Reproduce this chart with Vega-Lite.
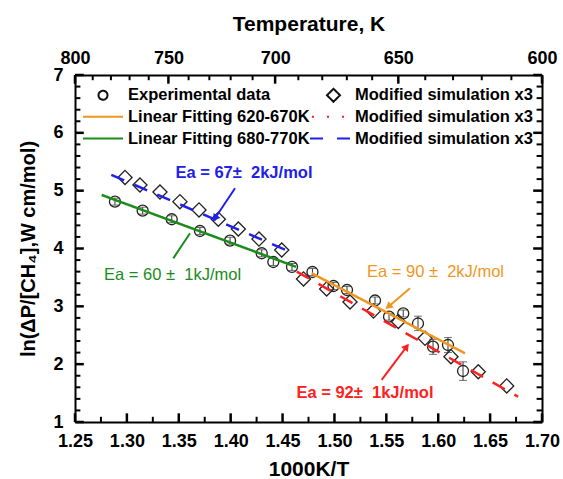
{
  "$schema": "https://vega.github.io/schema/vega-lite/v6.json",
  "width": 467,
  "height": 347,
  "autosize": {"type": "none"},
  "padding": {"left": 75, "top": 75, "right": 21, "bottom": 57},
  "background": "white",
  "config": {
    "view": {"stroke": null},
    "font": "Liberation Sans",
    "axis": {
      "grid": false, "domainColor": "black", "domainWidth": 2, "ticks": false, "zindex": 0,
      "labelFont": "Liberation Sans", "labelFontSize": 18, "labelFontWeight": "bold", "labelColor": "black",
      "titleFont": "Liberation Sans", "titleFontSize": 21, "titleFontWeight": "bold", "titleColor": "black",
      "labelFlush": false, "labelOverlap": false, "labelBound": false
    }
  },
  "datasets": {
    "exp": [
      {"x": 1.2885, "y": 4.810, "lo": 4.750, "hi": 4.870},
      {"x": 1.3152, "y": 4.654, "lo": 4.594, "hi": 4.714},
      {"x": 1.3432, "y": 4.506, "lo": 4.446, "hi": 4.566},
      {"x": 1.3704, "y": 4.303, "lo": 4.243, "hi": 4.363},
      {"x": 1.3994, "y": 4.135, "lo": 4.075, "hi": 4.195},
      {"x": 1.4299, "y": 3.918, "lo": 3.858, "hi": 3.978},
      {"x": 1.4411, "y": 3.767, "lo": 3.707, "hi": 3.827},
      {"x": 1.4591, "y": 3.681, "lo": 3.621, "hi": 3.741},
      {"x": 1.4788, "y": 3.594, "lo": 3.534, "hi": 3.654},
      {"x": 1.4991, "y": 3.352, "lo": 3.292, "hi": 3.412},
      {"x": 1.5121, "y": 3.282, "lo": 3.222, "hi": 3.342},
      {"x": 1.5391, "y": 3.101, "lo": 3.041, "hi": 3.161},
      {"x": 1.5526, "y": 2.821, "lo": 2.761, "hi": 2.881},
      {"x": 1.5663, "y": 2.877, "lo": 2.817, "hi": 2.937},
      {"x": 1.5805, "y": 2.703, "lo": 2.580, "hi": 2.830},
      {"x": 1.5950, "y": 2.302, "lo": 2.170, "hi": 2.430},
      {"x": 1.6094, "y": 2.331, "lo": 2.200, "hi": 2.460},
      {"x": 1.6239, "y": 1.882, "lo": 1.720, "hi": 2.040}
    ],
    "sim": [
      {"x": 1.2982, "y": 5.228}, {"x": 1.3126, "y": 5.098}, {"x": 1.3319, "y": 4.977},
      {"x": 1.3511, "y": 4.810}, {"x": 1.3695, "y": 4.666}, {"x": 1.3881, "y": 4.506},
      {"x": 1.4074, "y": 4.337}, {"x": 1.4273, "y": 4.164}, {"x": 1.4492, "y": 3.974},
      {"x": 1.4702, "y": 3.473}, {"x": 1.4925, "y": 3.300}, {"x": 1.5150, "y": 3.075},
      {"x": 1.5376, "y": 2.919}, {"x": 1.5615, "y": 2.738}, {"x": 1.5873, "y": 2.447},
      {"x": 1.6123, "y": 2.129}, {"x": 1.6386, "y": 1.869}, {"x": 1.6660, "y": 1.623}
    ],
    "fits": [
      {"series": "fit620", "x": 1.478, "y": 3.572}, {"series": "fit620", "x": 1.6258, "y": 2.188},
      {"series": "fit680", "x": 1.2757, "y": 4.926}, {"series": "fit680", "x": 1.463, "y": 3.683},
      {"series": "sim620", "x": 1.4637, "y": 3.600}, {"series": "sim620", "x": 1.677, "y": 1.437},
      {"series": "sim680", "x": 1.285, "y": 5.273}, {"series": "sim680", "x": 1.4605, "y": 3.918}
    ],
    "notes": [
      {"id": "blue", "x": 1.4128, "y": 5.297, "text": "Ea = 67±\u00a0 2kJ/mol"},
      {"id": "green", "x": 1.344, "y": 3.542, "text": "Ea = 60 ±\u00a0 1kJ/mol"},
      {"id": "orange", "x": 1.5974, "y": 3.600, "text": "Ea = 90 ±\u00a0 2kJ/mol"},
      {"id": "red", "x": 1.5294, "y": 1.496, "text": "Ea = 92±\u00a0 1kJ/mol"}
    ],
    "arrows": [
      {"id": "blue", "x": 1.4042, "y": 5.041, "x2": 1.3849, "y2": 4.522},
      {"id": "green", "x": 1.3447, "y": 3.830, "x2": 1.3608, "y2": 4.263},
      {"id": "orange", "x": 1.5728, "y": 3.312, "x2": 1.5519, "y2": 2.994},
      {"id": "red", "x": 1.5455, "y": 1.727, "x2": 1.5696, "y2": 2.302}
    ],
    "legend": [
      {"key": "exp"}, {"key": "fit620"}, {"key": "fit680"}, {"key": "sim"}, {"key": "simred"}, {"key": "simblue"}
    ],
    "xMajor": [{"v": 1.25}, {"v": 1.3}, {"v": 1.35}, {"v": 1.4}, {"v": 1.45}, {"v": 1.5}, {"v": 1.55}, {"v": 1.6}, {"v": 1.65}, {"v": 1.7}],
    "xMinor": [{"v": 1.275}, {"v": 1.325}, {"v": 1.375}, {"v": 1.425}, {"v": 1.475}, {"v": 1.525}, {"v": 1.575}, {"v": 1.625}, {"v": 1.675}],
    "tMajor": [{"v": 1.25}, {"v": 1.34}, {"v": 1.442857}, {"v": 1.561538}, {"v": 1.7}],
    "tMinor": [{"v": 1.267089}, {"v": 1.284615}, {"v": 1.302597}, {"v": 1.321053}, {"v": 1.359459}, {"v": 1.379452}, {"v": 1.4}, {"v": 1.421127}, {"v": 1.465217}, {"v": 1.488235}, {"v": 1.51194}, {"v": 1.536364}, {"v": 1.5875}, {"v": 1.614286}, {"v": 1.641935}, {"v": 1.670492}],
    "yMajor": [{"v": 1}, {"v": 2}, {"v": 3}, {"v": 4}, {"v": 5}, {"v": 6}, {"v": 7}],
    "yMinor": [{"v": 1.2}, {"v": 1.4}, {"v": 1.6}, {"v": 1.8}, {"v": 2.2}, {"v": 2.4}, {"v": 2.6}, {"v": 2.8}, {"v": 3.2}, {"v": 3.4}, {"v": 3.6}, {"v": 3.8}, {"v": 4.2}, {"v": 4.4}, {"v": 4.6}, {"v": 4.8}, {"v": 5.2}, {"v": 5.4}, {"v": 5.6}, {"v": 5.8}, {"v": 6.2}, {"v": 6.4}, {"v": 6.6}, {"v": 6.8}]
  },
  "resolve": {
    "axis": {"x": "independent", "y": "independent"},
    "scale": {"color": "independent", "strokeDash": "independent", "shape": "independent"}
  },
  "layer": [
    {
      "data": {"name": "exp"},
      "mark": {"type": "errorbar", "ticks": {"size": 8, "color": "#333333"}, "color": "#333333"},
      "encoding": {
        "x": {"field": "x", "type": "quantitative", "scale": {"domain": [1.25, 1.7], "nice": false, "zero": false}, "axis": null},
        "y": {"field": "lo", "type": "quantitative", "scale": {"domain": [1, 7], "nice": false, "zero": false}, "axis": null},
        "y2": {"field": "hi"}
      }
    },
    {
      "data": {"name": "exp"},
      "mark": {"type": "point", "shape": "circle", "filled": false, "color": "#222222", "size": 121, "strokeWidth": 1.3, "opacity": 1},
      "encoding": {
        "x": {"field": "x", "type": "quantitative", "scale": {"domain": [1.25, 1.7], "nice": false, "zero": false},
          "axis": {"orient": "bottom", "values": [1.25, 1.3, 1.35, 1.4, 1.45, 1.5, 1.55, 1.6, 1.65, 1.7], "format": ".2f", "labelPadding": 10, "title": "1000K/T", "titlePadding": 8}},
        "y": {"field": "y", "type": "quantitative", "scale": {"domain": [1, 7], "nice": false, "zero": false},
          "axis": {"orient": "left", "values": [1, 2, 3, 4, 5, 6, 7], "format": "d", "labelPadding": 12, "title": "ln(ΔP/[CH₄],W cm/mol)", "titleFontSize": 20, "titlePadding": 14}}
      }
    },
    {
      "data": {"name": "sim"},
      "mark": {"type": "point", "shape": "diamond", "filled": false, "color": "#222222", "size": 200, "strokeWidth": 1.3, "opacity": 1},
      "encoding": {
        "x": {"field": "x", "type": "quantitative", "scale": {"domain": [1.25, 1.7], "nice": false, "zero": false}, "axis": null},
        "y": {"field": "y", "type": "quantitative", "scale": {"domain": [1, 7], "nice": false, "zero": false}, "axis": null}
      }
    },
    {
      "data": {"name": "fits"},
      "mark": {"type": "line", "strokeWidth": 2.5},
      "encoding": {
        "x": {"field": "x", "type": "quantitative", "scale": {"domain": [1.25, 1.7], "nice": false, "zero": false}, "axis": null},
        "y": {"field": "y", "type": "quantitative", "scale": {"domain": [1, 7], "nice": false, "zero": false}, "axis": null},
        "detail": {"field": "series"},
        "color": {"field": "series", "type": "nominal", "legend": null,
          "scale": {"domain": ["fit620", "fit680", "sim620", "sim680"], "range": ["#f0961e", "#1a8c1a", "#ff2020", "#2020e8"]}},
        "strokeDash": {"field": "series", "type": "nominal", "legend": null,
          "scale": {"domain": ["fit620", "fit680", "sim620", "sim680"], "range": [[1, 0], [1, 0], [14, 11], [14, 11]]}}
      }
    },
    {
      "data": {"name": "arrows"},
      "mark": {"type": "rule", "strokeWidth": 2},
      "encoding": {
        "x": {"field": "x", "type": "quantitative", "scale": {"domain": [1.25, 1.7], "nice": false, "zero": false},
          "axis": {"orient": "top", "values": [1.25, 1.34, 1.442857, 1.561538, 1.7], "labelExpr": "datum.value < 1.3 ? '800' : datum.value < 1.4 ? '750' : datum.value < 1.5 ? '700' : datum.value < 1.65 ? '650' : '600'", "labelPadding": 8, "title": "Temperature, K", "titlePadding": 15}},
        "y": {"field": "y", "type": "quantitative", "scale": {"domain": [1, 7], "nice": false, "zero": false},
          "axis": {"orient": "right", "values": [1, 7], "labels": false, "title": null}},
        "x2": {"field": "x2"},
        "y2": {"field": "y2"},
        "color": {"field": "id", "type": "nominal", "legend": null,
          "scale": {"domain": ["blue", "green", "orange", "red"], "range": ["#2020e8", "#1a8c1a", "#f0961e", "#ff2020"]}}
      }
    },
    {
      "data": {"name": "xMajor"},
      "mark": {"type": "rule", "color": "#000000", "strokeWidth": 2.5, "opacity": 1},
      "encoding": {
        "x": {"field": "v", "type": "quantitative", "scale": {"domain": [1.25, 1.7], "nice": false, "zero": false}, "axis": null},
        "y": {"datum": 1, "type": "quantitative", "scale": {"domain": [1, 7], "nice": false, "zero": false}, "axis": null},
        "y2": {"datum": 1.15}
      }
    },
    {
      "data": {"name": "xMinor"},
      "mark": {"type": "rule", "color": "#000000", "strokeWidth": 2, "opacity": 1},
      "encoding": {
        "x": {"field": "v", "type": "quantitative", "scale": {"domain": [1.25, 1.7], "nice": false, "zero": false}, "axis": null},
        "y": {"datum": 1, "type": "quantitative", "scale": {"domain": [1, 7], "nice": false, "zero": false}, "axis": null},
        "y2": {"datum": 1.09}
      }
    },
    {
      "data": {"name": "tMajor"},
      "mark": {"type": "rule", "color": "#000000", "strokeWidth": 2.5, "opacity": 1},
      "encoding": {
        "x": {"field": "v", "type": "quantitative", "scale": {"domain": [1.25, 1.7], "nice": false, "zero": false}, "axis": null},
        "y": {"datum": 7, "type": "quantitative", "scale": {"domain": [1, 7], "nice": false, "zero": false}, "axis": null},
        "y2": {"datum": 6.85}
      }
    },
    {
      "data": {"name": "tMinor"},
      "mark": {"type": "rule", "color": "#000000", "strokeWidth": 2, "opacity": 1},
      "encoding": {
        "x": {"field": "v", "type": "quantitative", "scale": {"domain": [1.25, 1.7], "nice": false, "zero": false}, "axis": null},
        "y": {"datum": 7, "type": "quantitative", "scale": {"domain": [1, 7], "nice": false, "zero": false}, "axis": null},
        "y2": {"datum": 6.91}
      }
    },
    {
      "data": {"name": "yMajor"},
      "mark": {"type": "rule", "color": "#000000", "strokeWidth": 2.5, "opacity": 1},
      "encoding": {
        "y": {"field": "v", "type": "quantitative", "scale": {"domain": [1, 7], "nice": false, "zero": false}, "axis": null},
        "x": {"datum": 1.25, "type": "quantitative", "scale": {"domain": [1.25, 1.7], "nice": false, "zero": false}, "axis": null},
        "x2": {"datum": 1.2585}
      }
    },
    {
      "data": {"name": "yMinor"},
      "mark": {"type": "rule", "color": "#000000", "strokeWidth": 2, "opacity": 1},
      "encoding": {
        "y": {"field": "v", "type": "quantitative", "scale": {"domain": [1, 7], "nice": false, "zero": false}, "axis": null},
        "x": {"datum": 1.25, "type": "quantitative", "scale": {"domain": [1.25, 1.7], "nice": false, "zero": false}, "axis": null},
        "x2": {"datum": 1.2552}
      }
    },
    {
      "data": {"name": "yMajor"},
      "mark": {"type": "rule", "color": "#000000", "strokeWidth": 2.5, "opacity": 1},
      "encoding": {
        "y": {"field": "v", "type": "quantitative", "scale": {"domain": [1, 7], "nice": false, "zero": false}, "axis": null},
        "x": {"datum": 1.7, "type": "quantitative", "scale": {"domain": [1.25, 1.7], "nice": false, "zero": false}, "axis": null},
        "x2": {"datum": 1.6915}
      }
    },
    {
      "data": {"name": "yMinor"},
      "mark": {"type": "rule", "color": "#000000", "strokeWidth": 2, "opacity": 1},
      "encoding": {
        "y": {"field": "v", "type": "quantitative", "scale": {"domain": [1, 7], "nice": false, "zero": false}, "axis": null},
        "x": {"datum": 1.7, "type": "quantitative", "scale": {"domain": [1.25, 1.7], "nice": false, "zero": false}, "axis": null},
        "x2": {"datum": 1.6948}
      }
    },
    {
      "data": {"name": "arrows"},
      "transform": [{"filter": "datum.id == 'blue'"}],
      "mark": {"type": "point", "shape": "triangle-up", "angle": 214, "filled": true, "size": 70, "color": "#2020e8", "opacity": 1},
      "encoding": {
        "x": {"field": "x2", "type": "quantitative", "scale": {"domain": [1.25, 1.7], "nice": false, "zero": false}, "axis": null},
        "y": {"field": "y2", "type": "quantitative", "scale": {"domain": [1, 7], "nice": false, "zero": false}, "axis": null}
      }
    },
    {
      "data": {"name": "arrows"},
      "transform": [{"filter": "datum.id == 'orange'"}],
      "mark": {"type": "point", "shape": "triangle-up", "angle": 230, "filled": true, "size": 70, "color": "#f0961e", "opacity": 1},
      "encoding": {
        "x": {"field": "x2", "type": "quantitative", "scale": {"domain": [1.25, 1.7], "nice": false, "zero": false}, "axis": null},
        "y": {"field": "y2", "type": "quantitative", "scale": {"domain": [1, 7], "nice": false, "zero": false}, "axis": null}
      }
    },
    {
      "data": {"name": "arrows"},
      "transform": [{"filter": "datum.id == 'red'"}],
      "mark": {"type": "point", "shape": "triangle-up", "angle": 37, "filled": true, "size": 70, "color": "#ff2020", "opacity": 1},
      "encoding": {
        "x": {"field": "x2", "type": "quantitative", "scale": {"domain": [1.25, 1.7], "nice": false, "zero": false}, "axis": null},
        "y": {"field": "y2", "type": "quantitative", "scale": {"domain": [1, 7], "nice": false, "zero": false}, "axis": null}
      }
    },
    {
      "data": {"name": "notes"},
      "transform": [{"filter": "datum.id == 'blue' || datum.id == 'red'"}],
      "mark": {"type": "text", "font": "Liberation Sans", "fontSize": 16.5, "fontWeight": "bold", "align": "center", "baseline": "middle"},
      "encoding": {
        "x": {"field": "x", "type": "quantitative", "scale": {"domain": [1.25, 1.7], "nice": false, "zero": false}, "axis": null},
        "y": {"field": "y", "type": "quantitative", "scale": {"domain": [1, 7], "nice": false, "zero": false}, "axis": null},
        "text": {"field": "text"},
        "color": {"field": "id", "type": "nominal", "legend": null,
          "scale": {"domain": ["blue", "red"], "range": ["#2020e8", "#ff2020"]}}
      }
    },
    {
      "data": {"name": "notes"},
      "transform": [{"filter": "datum.id == 'green' || datum.id == 'orange'"}],
      "mark": {"type": "text", "font": "Liberation Sans", "fontSize": 16.5, "fontWeight": "normal", "align": "center", "baseline": "middle"},
      "encoding": {
        "x": {"field": "x", "type": "quantitative", "scale": {"domain": [1.25, 1.7], "nice": false, "zero": false}, "axis": null},
        "y": {"field": "y", "type": "quantitative", "scale": {"domain": [1, 7], "nice": false, "zero": false}, "axis": null},
        "text": {"field": "text"},
        "color": {"field": "id", "type": "nominal", "legend": null,
          "scale": {"domain": ["green", "orange"], "range": ["#1a8c1a", "#f0961e"]}}
      }
    },
    {
      "data": {"name": "legend"},
      "mark": {"type": "point", "filled": false, "opacity": 0},
      "encoding": {
        "shape": {"field": "key", "type": "nominal",
          "scale": {"domain": ["exp", "fit620", "fit680", "sim", "simred", "simblue"],
            "range": ["M0.093,0A0.209,0.209,0,1,1,-0.325,0A0.209,0.209,0,1,1,0.093,0Z", "M-1.326,0L0.814,0", "M-1.326,0L0.814,0", "M-0.256,0L0.046,-0.302L0.348,0L0.046,0.302Z", "M-0.953,0L0.581,0", "M-1.047,0L0.814,0"]},
          "legend": {"orient": "none", "legendX": 8, "legendY": 12, "columns": 2, "columnPadding": 0, "rowPadding": 4.8, "clipHeight": 16, "padding": 0, "title": null,
            "symbolSize": 1849, "symbolStrokeWidth": 2, "symbolOpacity": 1, "labelOffset": 0, "labelLimit": 400,
            "labelFont": "Liberation Sans", "labelFontSize": 16.5, "labelFontWeight": "bold", "labelColor": "black",
            "labelExpr": "datum.value == 'exp' ? 'Experimental data' : datum.value == 'fit620' ? 'Linear Fitting 620-670K' : datum.value == 'fit680' ? 'Linear Fitting 680-770K' : 'Modified simulation x3'"}},
        "color": {"field": "key", "type": "nominal",
          "scale": {"domain": ["exp", "fit620", "fit680", "sim", "simred", "simblue"],
            "range": ["#111111", "#f0961e", "#1a8c1a", "#111111", "#ff2020", "#2020e8"]},
          "legend": {"orient": "none", "legendX": 8, "legendY": 12, "columns": 2, "columnPadding": 0, "rowPadding": 4.8, "clipHeight": 16, "padding": 0, "title": null,
            "symbolSize": 1849, "symbolStrokeWidth": 2, "symbolOpacity": 1, "labelOffset": 0, "labelLimit": 400,
            "labelFont": "Liberation Sans", "labelFontSize": 16.5, "labelFontWeight": "bold", "labelColor": "black",
            "labelExpr": "datum.value == 'exp' ? 'Experimental data' : datum.value == 'fit620' ? 'Linear Fitting 620-670K' : datum.value == 'fit680' ? 'Linear Fitting 680-770K' : 'Modified simulation x3'"}},
        "strokeDash": {"field": "key", "type": "nominal",
          "scale": {"domain": ["exp", "fit620", "fit680", "sim", "simred", "simblue"],
            "range": [[1, 0], [1, 0], [1, 0], [1, 0], [2, 13], [13, 14]]},
          "legend": {"orient": "none", "legendX": 8, "legendY": 12, "columns": 2, "columnPadding": 0, "rowPadding": 4.8, "clipHeight": 16, "padding": 0, "title": null,
            "symbolSize": 1849, "symbolStrokeWidth": 2, "symbolOpacity": 1, "labelOffset": 0, "labelLimit": 400,
            "labelFont": "Liberation Sans", "labelFontSize": 16.5, "labelFontWeight": "bold", "labelColor": "black",
            "labelExpr": "datum.value == 'exp' ? 'Experimental data' : datum.value == 'fit620' ? 'Linear Fitting 620-670K' : datum.value == 'fit680' ? 'Linear Fitting 680-770K' : 'Modified simulation x3'"}}
      }
    }
  ]
}
